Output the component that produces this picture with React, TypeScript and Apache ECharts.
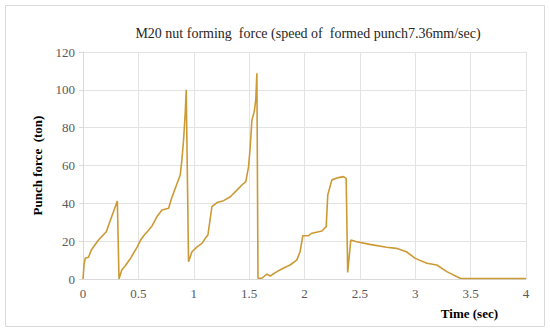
import React, { useEffect, useRef } from "react";
import * as echarts from "echarts";

const chartTitle = "M20 nut forming  force (speed of  formed punch7.36mm/sec)";
const xAxisName = "Time (sec)";
const yAxisName = "Punch force  (ton)";

const times = [
  0, 0.01, 0.02, 0.05, 0.075, 0.14, 0.21, 0.31, 0.325, 0.35, 0.38, 0.43, 0.49, 0.52, 0.55, 0.58,
  0.62, 0.668, 0.713, 0.773, 0.8, 0.85, 0.878, 0.893, 0.908, 0.923, 0.932, 0.953, 0.984, 1.03,
  1.074, 1.104, 1.128, 1.164, 1.21, 1.27, 1.33, 1.39, 1.435, 1.47, 1.495, 1.51, 1.525, 1.546,
  1.56, 1.57, 1.58, 1.615, 1.66, 1.69, 1.765, 1.826, 1.87, 1.93, 1.96, 1.985, 2.036, 2.067,
  2.157, 2.196, 2.21, 2.247, 2.307, 2.352, 2.376, 2.39, 2.418, 2.47, 2.59, 2.74, 2.83, 2.92,
  3.0, 3.105, 3.195, 3.285, 3.405, 3.45, 4.0,
];

const forces = [
  0, 8, 11, 11.5, 15.3, 20.6, 25, 41.2, 0, 4.8, 6.9, 11, 17, 20.6, 23, 25, 27.7, 33, 36.5, 37.4,
  42.7, 50.6, 55, 63, 73.5, 87.6, 100, 9.1, 14.4, 17, 18.8, 21.5, 23.3, 38.2, 40.4, 41.4, 43.5,
  47, 49.7, 51.5, 59.4, 70, 84, 88.5, 94.7, 108.8, 0.4, 0.4, 2.6, 1.6, 4.4, 6.2, 7.4, 10, 14.4,
  22.9, 22.9, 24.2, 25.4, 27.7, 44.4, 52.4, 53.6, 54.1, 53.2, 3.5, 20.6, 19.7, 18.3, 16.8, 16.2,
  14.4, 10.9, 8.3, 7.4, 3.9, 0.4, 0.3, 0.3,
];

const serif = "Liberation Serif";

const tickRich = { t: { fontFamily: serif, fontSize: 13, color: "#595959" } };

export default function App() {
  const ref = useRef<HTMLDivElement>(null);
  useEffect(() => {
    if (!ref.current) return;
    const chart = echarts.init(ref.current, undefined, { renderer: "svg" });
    const data = times.map((t, i) => [t, forces[i]]);
    chart.setOption({
      animation: false,
      backgroundColor: "#ffffff",
      textStyle: { fontFamily: serif },
      graphic: [
        {
          type: "rect",
          shape: { x: 5.5, y: 5.5, width: 539, height: 321 },
          style: { fill: "none", stroke: "#d9d9d9", lineWidth: 1 },
          silent: true,
        },
      ],
      title: {
        text: chartTitle,
        left: 303,
        top: 21,
        textAlign: "center",
        textStyle: { fontFamily: serif, fontSize: 14, fontWeight: "normal", color: "#262626" },
      },
      grid: { left: 83, right: 24, top: 52, bottom: 55, containLabel: false },
      xAxis: {
        type: "value",
        min: 0,
        max: 4,
        interval: 0.5,
        name: xAxisName,
        nameLocation: "end",
        nameGap: 0,
        nameTextStyle: {
          fontFamily: serif,
          fontSize: 13,
          fontWeight: "bold",
          color: "#000",
          align: "right",
          verticalAlign: "top",
          padding: [28, 28, 0, 0],
        },
        axisLine: { show: true, lineStyle: { color: "#d9d9d9" } },
        axisTick: { show: false },
        splitLine: { show: true, lineStyle: { color: "#e3e3e3" } },
        axisLabel: {
          fontFamily: serif,
          fontSize: 13,
          color: "#595959",
          margin: 8,
          formatter: (v: number) => "{t|" + v + "}",
          rich: tickRich,
        },
      },
      yAxis: {
        type: "value",
        min: 0,
        max: 120,
        interval: 20,
        name: yAxisName,
        nameLocation: "middle",
        nameGap: 39,
        nameRotate: 90,
        nameTextStyle: { fontFamily: serif, fontSize: 13, fontWeight: "bold", color: "#000" },
        axisLine: { show: true, lineStyle: { color: "#d9d9d9" } },
        axisTick: { show: true, length: 4, lineStyle: { color: "#d9d9d9" } },
        splitLine: { show: true, lineStyle: { color: "#e3e3e3" } },
        axisLabel: {
          fontFamily: serif,
          fontSize: 13,
          color: "#595959",
          margin: 8,
          formatter: (v: number) => "{t|" + v + "}",
          rich: tickRich,
        },
      },
      series: [
        {
          type: "line",
          data,
          showSymbol: false,
          symbol: "none",
          lineStyle: { color: "#cc9a35", width: 1.6 },
          itemStyle: { color: "#cc9a35" },
        },
      ],
    });
    return () => chart.dispose();
  }, []);
  return (
    <div
      ref={ref}
      style={{ position: "fixed", left: 0, top: 0, width: 550, height: 334 }}
    />
  );
}
